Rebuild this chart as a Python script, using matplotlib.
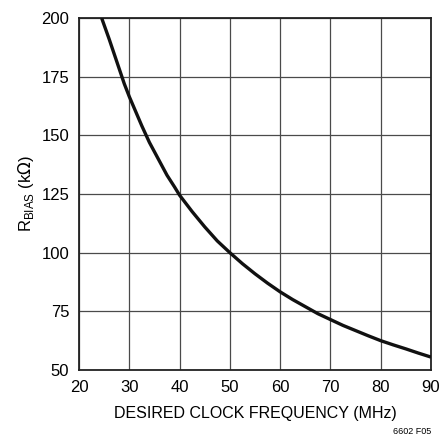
import matplotlib
matplotlib.use("Agg")
import matplotlib.pyplot as plt

plt.rcParams['font.family'] = ['Liberation Sans Narrow', 'Liberation Sans', 'DejaVu Sans']

# values
freq_mhz = [24.5, 26, 27.5, 29, 30, 31.5, 32.5, 34, 35, 36.5, 37.5, 39, 40, 42.5, 45,
            47.5, 50, 52.5, 55, 57.5, 60, 62.5, 65, 67.5, 70, 72.5, 75, 77.5, 80, 82.5, 85, 87.5, 90]
rbias_kohm = [200, 191, 181.5, 172, 166.5, 159, 154, 147, 143, 137, 133, 128, 124.5, 117.5, 111,
              105, 100, 95.3, 91, 87, 83.3, 80, 77, 74, 71.5, 69, 66.8, 64.6, 62.5, 60.7, 59, 57.2, 55.5]

x_ticks = [20, 30, 40, 50, 60, 70, 80, 90]
y_ticks = [50, 75, 100, 125, 150, 175, 200]

fig = plt.figure(figsize=(4.41, 4.37), dpi=100)
ax = fig.add_axes([79/441, 1 - 370/437, 352/441, 352/437])

ax.plot(freq_mhz, rbias_kohm, color="#111111", linewidth=2.4, solid_capstyle="butt", zorder=3)

ax.set_xlim(20, 90)
ax.set_ylim(50, 200)
ax.set_xticks(x_ticks)
ax.set_yticks(y_ticks)
ax.grid(True, color="#4a4a4a", linewidth=0.9)
ax.tick_params(length=0, labelsize=12)
ax.tick_params(axis="x", pad=7)
ax.tick_params(axis="y", pad=7)
for s in ax.spines.values():
    s.set_linewidth(1.3)
    s.set_color("#222222")

ax.set_xlabel("DESIRED CLOCK FREQUENCY (MHz)", fontsize=11.5, labelpad=8)
ax.set_ylabel(r"R$_{\mathregular{BIAS}}$ (k$\Omega$)", fontsize=12, labelpad=4)

fig.text(431/441, 1 - 431/437, "6602 F05", fontsize=6.5, ha="right", va="center")

fig.savefig("out.png", dpi=100)
